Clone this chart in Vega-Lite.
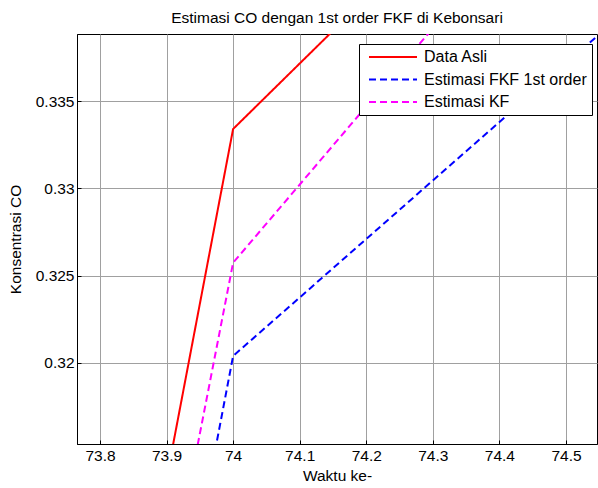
{
  "$schema": "https://vega.github.io/schema/vega-lite/v6.json",
  "width": 520,
  "height": 410,
  "autosize": {"type": "none"},
  "padding": {"left": 77, "top": 34, "right": 1, "bottom": 44},
  "background": "white",
  "title": {
    "text": "Estimasi CO dengan 1st order FKF di Kebonsari",
    "font": "Liberation Sans",
    "fontSize": 15.5,
    "fontWeight": "normal",
    "color": "black",
    "offset": 8
  },
  "config": {
    "view": {"stroke": "black", "strokeWidth": 1},
    "font": "Liberation Sans"
  },
  "data": {
    "values": [
      {"waktu": 73, "co": 0.1330, "seri": "Data Asli"},
      {"waktu": 74, "co": 0.3334, "seri": "Data Asli"},
      {"waktu": 75, "co": 0.3709, "seri": "Data Asli"},
      {"waktu": 73, "co": 0.1200, "seri": "Estimasi FKF 1st order"},
      {"waktu": 74, "co": 0.3204, "seri": "Estimasi FKF 1st order"},
      {"waktu": 75, "co": 0.3539, "seri": "Estimasi FKF 1st order"},
      {"waktu": 73, "co": 0.1298, "seri": "Estimasi KF"},
      {"waktu": 74, "co": 0.32574, "seri": "Estimasi KF"},
      {"waktu": 75, "co": 0.3705, "seri": "Estimasi KF"}
    ]
  },
  "mark": {"type": "line", "clip": true, "strokeWidth": 2},
  "encoding": {
    "x": {
      "field": "waktu",
      "type": "quantitative",
      "scale": {"domain": [73.7655, 74.5466], "nice": false, "zero": false},
      "axis": {
        "title": "Waktu ke-",
        "titleFont": "Liberation Sans",
        "titleFontSize": 15.5,
        "titleFontWeight": "normal",
        "titleColor": "black",
        "titlePadding": 5,
        "values": [73.8, 73.9, 74, 74.1, 74.2, 74.3, 74.4, 74.5],
        "format": ".1~f",
        "labelFont": "Liberation Sans",
        "labelFontSize": 15.5,
        "labelColor": "black",
        "labelPadding": 8,
        "tickSize": -4,
        "tickColor": "black",
        "domainColor": "black",
        "grid": true,
        "gridColor": "#a0a0a0",
        "gridWidth": 1
      }
    },
    "y": {
      "field": "co",
      "type": "quantitative",
      "scale": {"domain": [0.31536, 0.33884], "nice": false, "zero": false},
      "axis": {
        "title": "Konsentrasi CO",
        "titleFont": "Liberation Sans",
        "titleFontSize": 15.5,
        "titleFontWeight": "normal",
        "titleColor": "black",
        "titlePadding": 12,
        "values": [0.32, 0.325, 0.33, 0.335],
        "format": ".3~f",
        "labelFont": "Liberation Sans",
        "labelFontSize": 15.5,
        "labelColor": "black",
        "labelPadding": 7,
        "tickSize": -4,
        "tickColor": "black",
        "domainColor": "black",
        "grid": true,
        "gridColor": "#a0a0a0",
        "gridWidth": 1
      }
    },
    "color": {
      "field": "seri",
      "type": "nominal",
      "scale": {
        "domain": ["Data Asli", "Estimasi FKF 1st order", "Estimasi KF"],
        "range": ["#ff0000", "#0000ff", "#ff00ff"]
      },
      "legend": {
        "title": null,
        "orient": "none",
        "legendX": 282,
        "legendY": 10,
        "symbolType": "M-4,0H4",
        "symbolSize": 144,
        "symbolStrokeWidth": 2,
        "symbolOffset": 21,
        "labelOffset": 23,
        "labelFont": "Liberation Sans",
        "labelFontSize": 16,
        "labelColor": "black",
        "labelLimit": 300,
        "rowPadding": 6.5,
        "strokeColor": "black",
        "fillColor": "white",
        "padding": 5
      }
    },
    "strokeDash": {
      "field": "seri",
      "type": "nominal",
      "scale": {
        "domain": ["Data Asli", "Estimasi FKF 1st order", "Estimasi KF"],
        "range": [[1, 0], [7, 4], [7, 4]]
      },
      "legend": null
    }
  }
}
